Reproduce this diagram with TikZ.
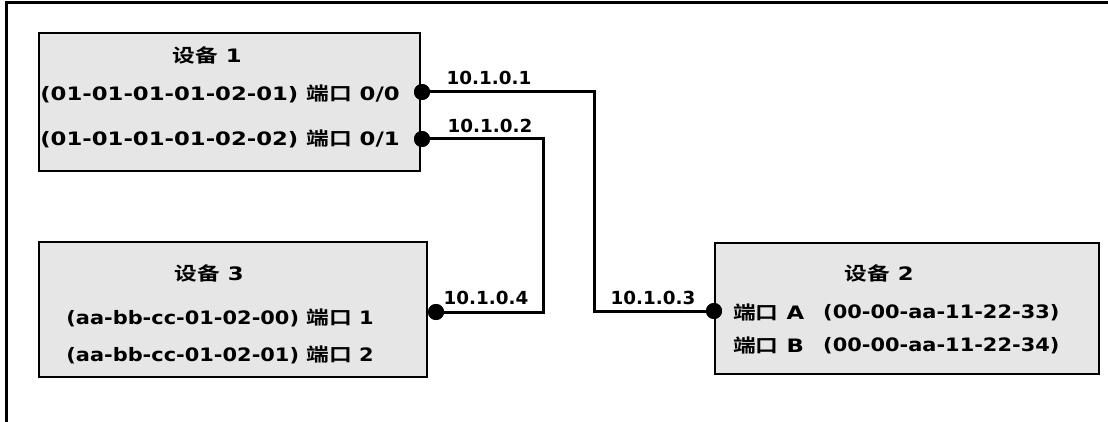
\documentclass[tikz,border=0pt]{standalone}
\usepackage{fontspec}
\newfontfamily\latb{DejaVu Sans Bold}[FakeStretch=1.23]
\newfontfamily\latn{DejaVu Sans Bold}[FakeStretch=1.13]
\newfontfamily\cjkb{Noto Sans CJK SC Bold}[FakeStretch=1.23]
\newfontfamily\labf{DejaVu Sans Bold}[FakeStretch=1.02]
\newcommand{\cn}[1]{{\cjkb #1}}
\definecolor{boxgray}{RGB}{230,230,230}
\tikzset{
  devbox/.style={draw=black, line width=2.4pt, fill=boxgray},
  txt/.style={inner sep=0pt, font=\fontsize{18.5}{22}\selectfont\latb},
  mac/.style={inner sep=0pt, font=\fontsize{18.5}{22}\selectfont\latn},
  iplab/.style={inner sep=0pt, font=\fontsize{18}{22}\selectfont\labf},
  port/.style={circle, fill=black, inner sep=0pt, minimum size=16pt},
  wire/.style={line width=3pt, line join=miter},
  frame/.style={line width=3pt}
}
\begin{document}
\begin{tikzpicture}[x=1pt, y=-1pt]
\useasboundingbox (0,0) rectangle (1108,422);
\fill[white] (0,0) rectangle (1108,422);
% outer frame (top and left edges only)
\coordinate (ftl) at (6,2.5);
\coordinate (ftr) at (1110,2.5);
\coordinate (fbl) at (6,424);
\draw[frame] (ftr) -- (ftl) -- (fbl);

% device boxes
\path[devbox] (39,33) rectangle (420,171);
\path[devbox] (39,242) rectangle (427,377);
\path[devbox] (715,243) rectangle (1099,374);

% device 1 texts
\node[txt] (t1) at (207,55) {\cn{设备} 1};
\node[txt] (t1a) at (220,94) {(01-01-01-01-02-01) \cn{端口} 0/0};
\node[txt] (t1b) at (220,139) {(01-01-01-01-02-02) \cn{端口} 0/1};

% device 3 texts
\node[txt] (t3) at (209,273) {\cn{设备} 3};
\node[mac] (t3a) at (220,318) {(aa-bb-cc-01-02-00) \cn{端口} 1};
\node[mac] (t3b) at (220,355) {(aa-bb-cc-01-02-01) \cn{端口} 2};

% device 2 texts
\node[txt] (t2) at (879,273) {\cn{设备} 2};
\node[txt, anchor=west] (t2a) at (733,313) {\cn{端口} A};
\node[mac, anchor=west] (m2a) at (823,313) {(00-00-aa-11-22-33)};
\node[txt, anchor=west] (t2b) at (733,346) {\cn{端口} B};
\node[mac, anchor=west] (m2b) at (823,346) {(00-00-aa-11-22-34)};

% ports
\node[port] (d1) at (422,92) {};
\node[port] (d2) at (422,139) {};
\node[port] (d4) at (436,312) {};
\node[port] (d3) at (714,311) {};

% bends
\coordinate (b1) at (594,92);
\coordinate (b2) at (543,139);

% wires
\draw[wire] (d1.center) -- (b1) |- (d3.west);
\draw[wire] (d2.center) -- (b2) |- (d4.center);

% redraw ports on top
\node[port] at (d1) {};
\node[port] at (d2) {};
\node[port] at (d4) {};
\node[port] at (d3) {};

% IP labels
\node[iplab] (ip1) at (489,78) {10.1.0.1};
\node[iplab] (ip2) at (490,126) {10.1.0.2};
\node[iplab] (ip4) at (486,298) {10.1.0.4};
\node[iplab] (ip3) at (653,298) {10.1.0.3};
\end{tikzpicture}
\end{document}
